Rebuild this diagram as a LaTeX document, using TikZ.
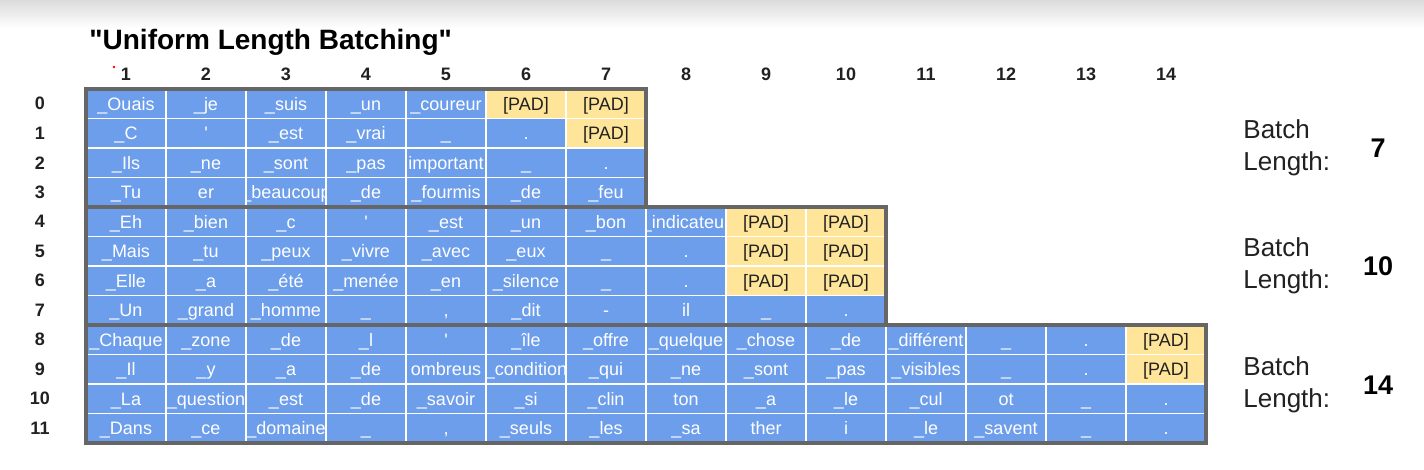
\documentclass[tikz,border=0pt]{standalone}
\usepackage{fontspec}
\setmainfont{Liberation Sans}
\usepackage{tikz}
\usepackage{xcolor}
\usetikzlibrary{positioning}

\definecolor{tokblue}{HTML}{6D9EEB}
\definecolor{padyellow}{HTML}{FFE599}
\definecolor{boxgray}{HTML}{666666}
\definecolor{inkdark}{HTML}{212121}

\begin{document}
\begin{tikzpicture}[x=0.5pt, y=-0.5pt,
                    cellbox/.style={rectangle, minimum width=40pt, minimum height=14.75pt,
                                    inner sep=0pt, outer sep=0pt, draw=white, line width=0.7pt},
                    celltxt/.style={font=\fontsize{9}{10}\selectfont, inner sep=0pt,
                                    text height=6.5pt, text depth=0pt},
                    tok/.style={cellbox, fill=tokblue,
                                path picture={\node[celltxt, text=white] at (path picture bounding box.center) {#1};}},
                    pad/.style={cellbox, fill=padyellow,
                                path picture={\node[celltxt, text=inkdark] at (path picture bounding box.center) {#1};}},
                    idx/.style={font=\bfseries\fontsize{9}{10}\selectfont, text=inkdark},
                    batchbox/.style={draw=boxgray, line width=2pt},
                    batchlbl/.style={font=\fontsize{13}{15.8}\selectfont, align=left, anchor=west,
                                     inner sep=0pt, text=inkdark},
                    batchnum/.style={font=\bfseries\fontsize{13.5}{15}\selectfont, text=black}]
    \useasboundingbox (0,0) rectangle (1424,470);
    \fill[white] (0,0) rectangle (1424,470);
    \shade[top color=black!14, bottom color=white] (0,0) rectangle (1424,28);

    \node[font=\bfseries\fontsize{14}{16}\selectfont, anchor=base west, inner sep=0pt, text=black]
        (title) at (89,49.5) {\textquotedbl Uniform Length Batching\textquotedbl};

    % column and row numbers
    \foreach \c in {1,...,14}
        \node[idx] (col-\c) at ({46+80*\c},74) {\c};
    \foreach \r in {0,...,11}
        \node[idx] (row-\r) at (40,{103.75+29.5*\r}) {\r};
    \fill[red] (114,67) circle[radius=0.7pt];

    % token cells, one list per sentence
    \foreach \row [count=\r from 0] in {
        {tok/\_Ouais, tok/\_je, tok/\_suis, tok/\_un, tok/\_coureur, pad/[PAD], pad/[PAD]},
        {tok/\_C, tok/\textquotesingle, tok/\_est, tok/\_vrai, tok/\_, tok/., pad/[PAD]},
        {tok/\_Ils, tok/\_ne, tok/\_sont, tok/\_pas, tok/important, tok/\_, tok/.},
        {tok/\_Tu, tok/er, tok/\_beaucoup, tok/\_de, tok/\_fourmis, tok/\_de, tok/\_feu},
        {tok/\_Eh, tok/\_bien, tok/\_c, tok/\textquotesingle, tok/\_est, tok/\_un, tok/\_bon,
         tok/\_indicateur, pad/[PAD], pad/[PAD]},
        {tok/\_Mais, tok/\_tu, tok/\_peux, tok/\_vivre, tok/\_avec, tok/\_eux, tok/\_, tok/.,
         pad/[PAD], pad/[PAD]},
        {tok/\_Elle, tok/\_a, tok/\_été, tok/\_menée, tok/\_en, tok/\_silence, tok/\_, tok/.,
         pad/[PAD], pad/[PAD]},
        {tok/\_Un, tok/\_grand, tok/\_homme, tok/\_, tok/{,}, tok/\_dit, tok/-, tok/il, tok/\_, tok/.},
        {tok/\_Chaque, tok/\_zone, tok/\_de, tok/\_l, tok/\textquotesingle, tok/\_île, tok/\_offre,
         tok/\_quelque, tok/\_chose, tok/\_de, tok/\_différent, tok/\_, tok/., pad/[PAD]},
        {tok/\_Il, tok/\_y, tok/\_a, tok/\_de, tok/ombreus, tok/\_condition, tok/\_qui,
         tok/\_ne, tok/\_sont, tok/\_pas, tok/\_visibles, tok/\_, tok/., pad/[PAD]},
        {tok/\_La, tok/\_question, tok/\_est, tok/\_de, tok/\_savoir, tok/\_si, tok/\_clin,
         tok/ton, tok/\_a, tok/\_le, tok/\_cul, tok/ot, tok/\_, tok/.},
        {tok/\_Dans, tok/\_ce, tok/\_domaine, tok/\_, tok/{,}, tok/\_seuls, tok/\_les,
         tok/\_sa, tok/ther, tok/i, tok/\_le, tok/\_savent, tok/\_, tok/.}}
        \foreach \k/\t [count=\c] in \row
            \node[\k=\t] (c-\r-\c) at ({46+80*\c},{103.75+29.5*\r}) {};

    % batch outlines
    \draw[batchbox] (c-0-1.north west) rectangle (c-3-7.south east);
    \draw[batchbox] (c-4-1.north west) rectangle (c-7-10.south east);
    \draw[batchbox] (c-8-1.north west) rectangle (c-11-14.south east);

    % batch lengths
    \node[batchlbl] (lbl-a) at (1243,147.5) {Batch\\Length:};
    \node[batchnum] (len-a) at (1378,148) {7};
    \node[batchlbl] (lbl-b) at (1243,266) {Batch\\Length:};
    \node[batchnum] (len-b) at (1378,266.5) {10};
    \node[batchlbl] (lbl-c) at (1243,384.5) {Batch\\Length:};
    \node[batchnum] (len-c) at (1378,385) {14};
\end{tikzpicture}
\end{document}
